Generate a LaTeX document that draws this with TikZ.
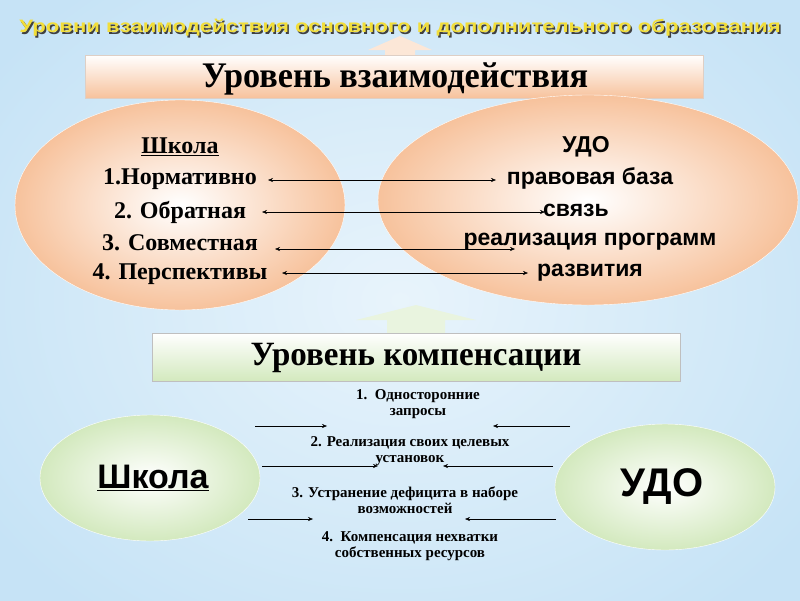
\documentclass[tikz,border=0pt]{standalone}
\usepackage{fontspec}
\setmainfont{Liberation Serif}
\setsansfont{Liberation Sans}
\usetikzlibrary{arrows.meta}
\definecolor{peach}{HTML}{F7C29C}
\definecolor{grn}{HTML}{D3E9BE}
\definecolor{ttl}{HTML}{F2DE3A}
\definecolor{bg}{HTML}{C6E3F6}
\begin{document}
\begin{tikzpicture}[x=1pt,y=-1pt,
  txt/.style={font=\bfseries\fontsize{24}{26}\selectfont},
  rtxt/.style={font=\sffamily\bfseries\fontsize{23}{25}\selectfont},
  small/.style={font=\bfseries\fontsize{15}{16}\selectfont,align=center},
  dbl/.style={{Stealth[length=5pt,width=4pt]}-{Stealth[length=5pt,width=4pt]},thin},
  one/.style={-{Stealth[length=5pt,width=4pt]},thin}]
\useasboundingbox (0,0) rectangle (800,600);
\shade[inner color=white!60!bg, outer color=bg] (-100,-100) rectangle (900,700);
% title
\node[font=\sffamily\bfseries\fontsize{18}{20}\selectfont,text=black!75] at (401.5,29.5) {\scalebox{1.23}[1]{Уровни взаимодействия основного и дополнительного образования}};
\node[font=\sffamily\bfseries\fontsize{18}{20}\selectfont,text=ttl] (title) at (400,28) {\scalebox{1.23}[1]{Уровни взаимодействия основного и дополнительного образования}};
% top arrow
\fill[peach!40] (385,56) -- (385,50) -- (368,50) -- (400,36) -- (432,50) -- (415,50) -- (415,56) -- cycle;
\shade[top color=white, bottom color=peach, draw=peach!70!black!40] (85,55) rectangle (703,98);
\node[font=\bfseries\fontsize{36}{38}\selectfont] (lev1) at (395,79) {\scalebox{0.95}[1]{Уровень взаимодействия}};
% ellipses
\shade[inner color=white, outer color=peach, draw=white] (180,205) ellipse [x radius=165, y radius=105];
\shade[inner color=white, outer color=peach, draw=white] (588,200) ellipse [x radius=210, y radius=105];
\node[txt] (s0) at (180,147) {\underline{Школа}};
\node[txt] (s1) at (180,179) {1.Нормативно};
\node[txt] (s2) at (180,212) {2. Обратная};
\node[txt] (s3) at (180,243) {3. Совместная};
\node[txt] (s4) at (180,274) {4. Перспективы};
\node[rtxt] (u0) at (586,147) {УДО};
\node[rtxt] (u1) at (590,178) {правовая база};
\node[rtxt] (u2) at (576,210) {связь};
\node[rtxt] (u3) at (590,242) {реализация программ};
\node[rtxt] (u4) at (590,273) {развития};
\coordinate (a1l) at (268,180); \coordinate (a1r) at (496,180);
\coordinate (a2l) at (262,212); \coordinate (a2r) at (545,212);
\coordinate (a3l) at (275,249); \coordinate (a3r) at (515,249);
\coordinate (a4l) at (282,273); \coordinate (a4r) at (528,273);
\draw[dbl] (a1l) -- (a1r); \draw[dbl] (a2l) -- (a2r);
\draw[dbl] (a3l) -- (a3r); \draw[dbl] (a4l) -- (a4r);
% middle arrow
\fill[grn!50!white] (387,334) -- (387,320) -- (356,320) -- (416,305) -- (476,320) -- (445,320) -- (445,334) -- cycle;
\shade[top color=white, bottom color=grn, draw=black!25] (152,333) rectangle (680,381);
\node[font=\bfseries\fontsize{34}{36}\selectfont] (lev2) at (416,358) {\scalebox{0.97}[1]{Уровень компенсации}};
% bottom ellipses
\shade[inner color=white, outer color=grn, draw=white] (150,478) ellipse [x radius=110, y radius=63];
\shade[inner color=white, outer color=grn, draw=white] (665,487) ellipse [x radius=110, y radius=63];
\node[font=\sffamily\bfseries\fontsize{34}{36}\selectfont] (sch) at (153,478) {\underline{Школа}};
\node[font=\sffamily\bfseries\fontsize{40}{42}\selectfont] (udo) at (662,487) {УДО};
\node[small] (t1) at (418,404) {1.\ \ Односторонние\\запросы};
\node[small] (t2) at (410,451) {2. Реализация своих целевых\\установок};
\node[small] (t3) at (405,500) {3. Устранение дефицита в наборе\\возможностей};
\node[small] (t4) at (410,546) {4.\ \ Компенсация нехватки\\собственных ресурсов};
\coordinate (b1a) at (255,426); \coordinate (b1b) at (327,426);
\coordinate (b1c) at (570,426); \coordinate (b1d) at (493,426);
\coordinate (b2a) at (262,466); \coordinate (b2b) at (378,466);
\coordinate (b2c) at (553,466); \coordinate (b2d) at (443,466);
\coordinate (b3a) at (248,519); \coordinate (b3b) at (313,519);
\coordinate (b3c) at (556,519); \coordinate (b3d) at (465,519);
\draw[one] (b1a) -- (b1b); \draw[one] (b1c) -- (b1d);
\draw[one] (b2a) -- (b2b); \draw[one] (b2c) -- (b2d);
\draw[one] (b3a) -- (b3b); \draw[one] (b3c) -- (b3d);
\end{tikzpicture}
\end{document}
